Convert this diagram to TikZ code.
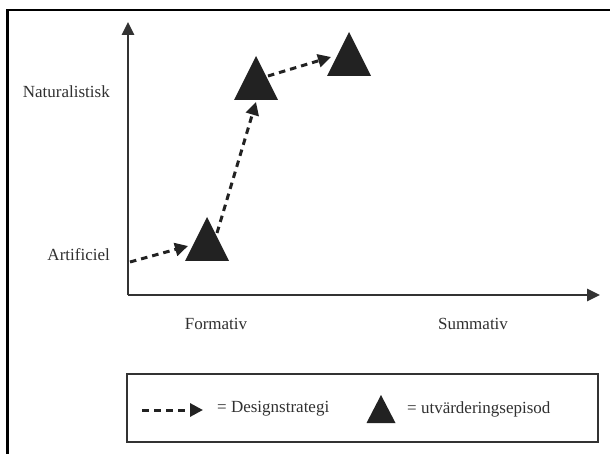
\documentclass[tikz,border=0pt]{standalone}
\usepackage{fontspec}
\setmainfont{Liberation Serif}
\usetikzlibrary{arrows.meta}
\definecolor{ink}{HTML}{222222}
\definecolor{axisgray}{HTML}{333333}
\definecolor{txt}{HTML}{303030}
\tikzset{
  axisline/.style={draw=axisgray, line width=2.6pt, -{Triangle[length=13pt,width=12pt]}},
  strategy/.style={draw=ink, line width=3pt, dash pattern=on 6.5pt off 5pt,
    -{Triangle[length=13pt,width=13pt]}},
  label/.style={font=\fontsize{17}{19}\selectfont, text=txt, inner sep=0pt},
  frameline/.style={draw=black, line width=2.8pt},
  legendbox/.style={draw=axisgray, line width=2.6pt},
  episode/.style={fill=ink},
}
\begin{document}
\begin{tikzpicture}[x=1pt,y=-1pt]
  \useasboundingbox (0,0) rectangle (610,454);
  \clip (0,0) rectangle (610,454);

  % outer frame (runs past the right and bottom edges)
  \draw[frameline] (7.5,10) rectangle (640,480);

  % axes
  \coordinate (origin) at (128,295);
  \coordinate (ytip) at (128,22);
  \coordinate (xtip) at (600,295);
  \draw[axisline] (origin) -- (ytip);
  \draw[axisline] (origin) -- (xtip);

  % axis labels
  \node[label, anchor=east] (nat) at (110,92) {Naturalistisk};
  \node[label, anchor=east] (art) at (110,255) {Artificiel};
  \node[label] (form) at (216,324) {Formativ};
  \node[label] (summ) at (473,324) {Summativ};

  % evaluation episodes (apex positions)
  \coordinate (e1) at (207,217);
  \coordinate (e2) at (256,56);
  \coordinate (e3) at (349,32);
  \foreach \e in {e1,e2,e3}
    \fill[episode] (\e) -- ++(22,44) -- ++(-44,0) -- cycle;

  % design strategy path
  \coordinate (s0) at (130,262);
  \coordinate (a1) at (188,246);
  \coordinate (s1) at (217,233);
  \coordinate (a2) at (256,102);
  \coordinate (s2) at (268,76);
  \coordinate (a3) at (331,57);
  \draw[strategy] (s0) -- (a1);
  \draw[strategy] (s1) -- (a2);
  \draw[strategy] (s2) -- (a3);

  % legend
  \draw[legendbox] (127,374) rectangle (598,442);
  \coordinate (l0) at (142,410);
  \coordinate (l1) at (203,410);
  \draw[strategy, dash pattern=on 7pt off 5pt] (l0) -- (l1);
  \node[label, anchor=west] (ldesign) at (217,409) {= Designstrategi};
  \coordinate (lt) at (381,395);
  \fill[episode] (lt) -- ++(14.5,28) -- ++(-29,0) -- cycle;
  \node[label, anchor=west] (lepisode) at (407,409) {= utvärderingsepisod};
\end{tikzpicture}
\end{document}
